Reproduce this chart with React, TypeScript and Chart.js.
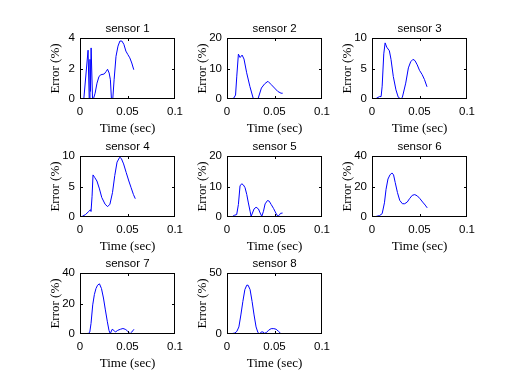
import React, { useEffect, useRef } from "react";
import { Chart, registerables } from "chart.js";

Chart.register(...registerables);

// ---- data (time in sec, error in %) ----
const s1Time = [0, 0.004, 0.0085, 0.0097, 0.0105, 0.011, 0.0117, 0.0132, 0.0141, 0.0159, 0.0179, 0.02, 0.022, 0.0255, 0.0276, 0.029, 0.0307, 0.032, 0.0331, 0.0345, 0.0359, 0.0379, 0.04, 0.042, 0.0441, 0.0462, 0.0483, 0.0503, 0.0524, 0.0545, 0.0566];
const s1Error = [0, 0, 3.2, 0, 2.6, 0.5, 3.35, 0, 0, 0.38, 1.04, 1.48, 1.59, 1.64, 1.81, 1.95, 1.7, 1.26, 0, 0, 1.26, 2.8, 3.47, 3.8, 3.8, 3.58, 3.14, 2.92, 2.7, 2.36, 1.92];

const s2Time = [0, 0.0069, 0.009, 0.0103, 0.012, 0.0138, 0.0159, 0.0179, 0.0207, 0.0241, 0.0276, 0.031, 0.0328, 0.0362, 0.0397, 0.0431, 0.0466, 0.05, 0.0534, 0.0569, 0.0586];
const s2Error = [0, 0.2, 1.3, 7.5, 14.7, 13.6, 14.4, 13.1, 8.6, 4.1, 0.2, 0, 0.2, 3.6, 5.0, 5.8, 4.7, 3.6, 2.5, 1.9, 1.9];

const s3Time = [0, 0.0045, 0.0079, 0.0096, 0.0107, 0.0124, 0.0138, 0.0155, 0.0183, 0.02, 0.0224, 0.0252, 0.0276, 0.0303, 0.032, 0.0355, 0.0383, 0.0407, 0.0431, 0.0452, 0.0476, 0.05, 0.0528, 0.0552, 0.0579];
const s3Error = [0, 0.1, 0.4, 0.4, 2.1, 7.4, 9.2, 8.5, 7.9, 6.5, 3.7, 1.5, 0.3, 0, 0.3, 2.6, 5.1, 6.1, 6.5, 6.3, 5.6, 4.7, 4.0, 3.2, 2.0];

const s4Time = [0, 0.0024, 0.0058, 0.0092, 0.011, 0.0116, 0.0127, 0.0137, 0.0154, 0.0178, 0.0205, 0.0229, 0.0264, 0.0291, 0.0315, 0.0342, 0.0366, 0.039, 0.0418, 0.0435, 0.0459, 0.0486, 0.0514, 0.0538, 0.0562, 0.0582];
const s4Error = [0, 0.1, 0.4, 0.9, 1.2, 0.9, 3.4, 6.9, 6.5, 5.9, 4.6, 3.2, 2.1, 1.7, 2.1, 4.0, 6.8, 9.0, 9.8, 9.6, 8.7, 7.3, 5.9, 4.8, 3.7, 3.0];

const s5Time = [0, 0.0049, 0.0077, 0.0102, 0.012, 0.0137, 0.0155, 0.0173, 0.019, 0.0208, 0.0225, 0.0243, 0.0254, 0.0268, 0.0285, 0.0306, 0.0331, 0.0349, 0.0366, 0.0384, 0.0401, 0.0426, 0.0444, 0.0465, 0.049, 0.0514, 0.0535, 0.0549, 0.0563, 0.0585];
const s5Error = [0, 0, 0.55, 0.8, 4.1, 10.2, 10.9, 10.5, 9.6, 7.4, 4.6, 1.9, 0.2, 1.3, 2.65, 3.2, 2.65, 1.3, 0.2, 1.9, 4.3, 5.4, 5.2, 4.1, 2.8, 1.3, 0.2, 0.55, 1.2, 1.3];

const s6Time = [0, 0.0045, 0.0079, 0.0107, 0.0131, 0.0148, 0.0168, 0.0189, 0.021, 0.0227, 0.0244, 0.0268, 0.0292, 0.032, 0.0344, 0.0371, 0.0395, 0.0423, 0.045, 0.0478, 0.0505, 0.0533, 0.056, 0.0581];
const s6Error = [0, 0.4, 0.9, 2.2, 9.3, 18.2, 24.9, 27.6, 28.9, 27.6, 22.7, 16, 10.9, 8.7, 8.7, 9.8, 12, 14.2, 14.7, 13.8, 12, 9.8, 7.8, 6.0];

const s7Time = [0, 0.0048, 0.0089, 0.0103, 0.0116, 0.0134, 0.0151, 0.0168, 0.0185, 0.0205, 0.0226, 0.0247, 0.0267, 0.0288, 0.0305, 0.0318, 0.0339, 0.0356, 0.0373, 0.0397, 0.0425, 0.0452, 0.0476, 0.0493, 0.051, 0.0527, 0.0545, 0.0568];
const s7Error = [0, 0.2, 0.4, 1.3, 6.9, 19.1, 25.8, 29.8, 32, 32.9, 29.8, 23.6, 15.8, 8, 2.4, 0.2, 3.1, 2.4, 1.3, 2.4, 3.1, 3.6, 3.1, 2.4, 1.3, 0.2, 1.3, 3.1];

const s8Time = [0, 0.0049, 0.0083, 0.0104, 0.0125, 0.0146, 0.0167, 0.0188, 0.0208, 0.0222, 0.0243, 0.0264, 0.0285, 0.0306, 0.0326, 0.0344, 0.0361, 0.0378, 0.0396, 0.0413, 0.0438, 0.0465, 0.0493, 0.0517, 0.0542, 0.0563, 0.0576];
const s8Error = [0, 0.3, 0.8, 2.2, 5.8, 15.6, 26.7, 36.4, 40, 40, 36.4, 26.7, 15.6, 5.8, 1.1, 0, 1.7, 1.7, 0.6, 1.1, 3.1, 4.4, 4.4, 3.9, 2.2, 0.6, 0];

const sensorTitles = ["sensor 1", "sensor 2", "sensor 3", "sensor 4", "sensor 5", "sensor 6", "sensor 7", "sensor 8"];
const timeSeries = [s1Time, s2Time, s3Time, s4Time, s5Time, s6Time, s7Time, s8Time];
const errorSeries = [s1Error, s2Error, s3Error, s4Error, s5Error, s6Error, s7Error, s8Error];
const xTicks = [0, 0.05, 0.1];
const yTicks = [
  [0, 2, 4],
  [0, 10, 20],
  [0, 5, 10],
  [0, 5, 10],
  [0, 10, 20],
  [0, 20, 40],
  [0, 20, 40],
  [0, 50],
];
const xLabel = "Time (sec)";
const yLabel = "Error (%)";

// ---- layout ----
const COL_LEFT = [80, 227, 372];
const ROW_TOP = [38, 156, 273];
const BOX_W = 97;
const BOX_H = 61;
const Y_AXIS_W = 32;
const X_AXIS_H = 37;
const TOP_H = 22;
const RIGHT_PAD = 12;
const CANVAS_W = Y_AXIS_W + BOX_W + RIGHT_PAD;
const CANVAS_H = TOP_H + BOX_H + X_AXIS_H;

const SANS = "'Liberation Sans', Arial, Helvetica, sans-serif";
const SERIF = "'Liberation Serif', 'Times New Roman', serif";

const framePlugin = {
  id: "matlabFrame",
  afterDraw(chart: any) {
    const { ctx, chartArea: a, scales } = chart;
    const x = scales.x;
    const y = scales.y;
    ctx.save();
    ctx.strokeStyle = "#000";
    ctx.lineWidth = 1;
    ctx.strokeRect(a.left + 0.5, a.top + 0.5, a.right - a.left - 1, a.bottom - a.top - 1);
    const L = 3;
    ctx.beginPath();
    x.ticks.forEach((t: any) => {
      let px = Math.round(x.getPixelForValue(t.value)) + 0.5;
      px = Math.min(Math.max(px, a.left + 0.5), a.right - 0.5);
      ctx.moveTo(px, a.bottom);
      ctx.lineTo(px, a.bottom - L);
      ctx.moveTo(px, a.top);
      ctx.lineTo(px, a.top + L);
    });
    y.ticks.forEach((t: any) => {
      let py = Math.round(y.getPixelForValue(t.value)) + 0.5;
      py = Math.min(Math.max(py, a.top + 0.5), a.bottom - 0.5);
      ctx.moveTo(a.left, py);
      ctx.lineTo(a.left + L, py);
      ctx.moveTo(a.right, py);
      ctx.lineTo(a.right - L, py);
    });
    ctx.stroke();
    ctx.restore();
  },
};

function SubPlot({ index }: { index: number }) {
  const ref = useRef<HTMLCanvasElement>(null);
  useEffect(() => {
    const canvas = ref.current;
    if (!canvas) return;
    const t = timeSeries[index];
    const e = errorSeries[index];
    const yt = yTicks[index];
    const chart = new Chart(canvas, {
      type: "line",
      data: {
        datasets: [
          {
            data: t.map((tv, i) => ({ x: tv, y: e[i] })),
            borderColor: "#0000ff",
            borderWidth: 1,
            pointRadius: 0,
            tension: 0,
            fill: false,
          },
        ],
      },
      options: {
        animation: false,
        responsive: false,
        devicePixelRatio: 1,
        layout: { padding: { left: 0, right: RIGHT_PAD, top: 0, bottom: 0 } },
        plugins: {
          legend: { display: false },
          tooltip: { enabled: false },
          title: {
            display: true,
            text: sensorTitles[index],
            color: "#000",
            fullSize: false,
            font: { family: SANS, size: 11.5, weight: "normal", lineHeight: 1.2 },
            padding: { top: 5.6, bottom: 2.6 },
          },
        },
        scales: {
          x: {
            type: "linear",
            min: 0,
            max: 0.1,
            afterBuildTicks: (s: any) => {
              s.ticks = xTicks.map((v) => ({ value: v }));
            },
            afterFit: (s: any) => {
              s.height = X_AXIS_H;
            },
            grid: { display: false, drawTicks: false },
            border: { display: false },
            ticks: {
              color: "#000",
              padding: 6,
              maxRotation: 0,
              autoSkip: false,
              font: { family: SANS, size: 11.5 },
              callback: (v: any) => String(v),
            },
            title: {
              display: true,
              text: xLabel,
              color: "#000",
              padding: 0,
              font: { family: SERIF, size: 13, weight: "normal", lineHeight: 1.2 },
            },
          },
          y: {
            type: "linear",
            min: 0,
            max: yt[yt.length - 1],
            afterBuildTicks: (s: any) => {
              s.ticks = yt.map((v) => ({ value: v }));
            },
            afterFit: (s: any) => {
              s.width = Y_AXIS_W;
            },
            grid: { display: false, drawTicks: false },
            border: { display: false },
            ticks: {
              color: "#000",
              padding: 5,
              autoSkip: false,
              font: { family: SANS, size: 11.5 },
              callback: (v: any) => String(v),
            },
            title: {
              display: true,
              text: yLabel,
              color: "#000",
              padding: 0,
              font: { family: SERIF, size: 13, weight: "normal", lineHeight: 1.2 },
            },
          },
        },
      },
      plugins: [framePlugin],
    } as any);
    return () => chart.destroy();
  }, [index]);

  const col = index % 3;
  const row = Math.floor(index / 3);
  return (
    <canvas
      ref={ref}
      width={CANVAS_W}
      height={CANVAS_H}
      style={{
        position: "absolute",
        left: COL_LEFT[col] - Y_AXIS_W,
        top: ROW_TOP[row] - TOP_H,
        width: CANVAS_W,
        height: CANVAS_H,
      }}
    />
  );
}

export default function App() {
  return (
    <div
      style={{
        position: "fixed",
        left: 0,
        top: 0,
        width: 523,
        height: 374,
        background: "#fff",
        overflow: "hidden",
      }}
    >
      {sensorTitles.map((_, i) => (
        <SubPlot key={i} index={i} />
      ))}
    </div>
  );
}
